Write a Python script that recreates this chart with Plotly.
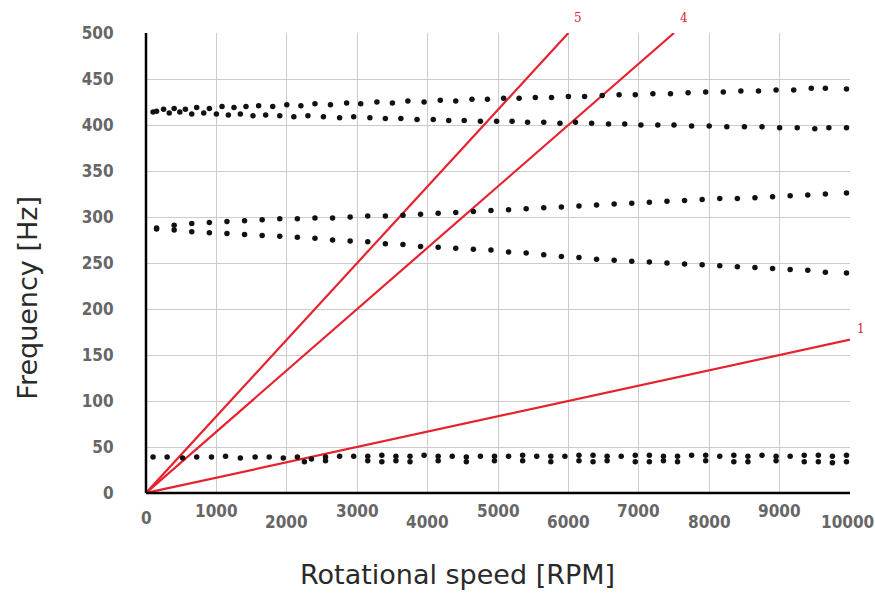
import plotly.graph_objects as go

# ---------------- data ----------------
rpm_a = [100, 250, 400, 560, 720, 900, 1080, 1250, 1420, 1600, 1800, 2000, 2200, 2400, 2620, 2850,
         3050, 3280, 3500, 3720, 3950, 4180, 4400, 4630, 4850, 5080, 5300, 5530, 5760, 6000, 6230,
         6480, 6720, 6950, 7200, 7450, 7700, 7950, 8200, 8450, 8700, 8950, 9200, 9450, 9650, 9950]
freq_a = [414, 417, 418, 417, 419, 418, 420, 419, 420, 421, 420, 422, 421, 423, 422, 424,
          423, 425, 424, 426, 425, 427, 426, 428, 428, 429, 429, 430, 430, 431, 431,
          432, 433, 433, 434, 434, 435, 436, 436, 437, 437, 438, 438, 440, 440, 439]

rpm_b = [150, 330, 480, 650, 820, 1000, 1170, 1340, 1520, 1700, 1900, 2100, 2300, 2520, 2750, 2950,
         3180, 3400, 3620, 3850, 4080, 4300, 4520, 4750, 4980, 5200, 5420, 5650, 5880, 6100, 6330,
         6570, 6800, 7030, 7270, 7500, 7750, 8000, 8250, 8500, 8750, 9000, 9250, 9500, 9700, 9950]
freq_b = [415, 413, 414, 412, 413, 412, 411, 412, 410, 411, 410, 409, 410, 409, 408, 409,
          408, 407, 407, 406, 406, 405, 405, 404, 404, 404, 403, 403, 402, 403, 402,
          401, 401, 400, 400, 400, 399, 399, 398, 398, 398, 397, 397, 396, 397, 397]

rpm_cd = [150, 400, 650, 900, 1150, 1400, 1650, 1900, 2150, 2400, 2650, 2900, 3150, 3400, 3650,
          3900, 4150, 4400, 4650, 4900, 5150, 5400, 5650, 5900, 6150, 6400, 6650, 6900, 7150,
          7400, 7650, 7900, 8150, 8400, 8650, 8900, 9150, 9400, 9650, 9950]
freq_c = [288, 291, 293, 294, 295, 296, 297, 298, 298, 299, 299, 300, 301, 301, 302,
          303, 304, 305, 306, 307, 308, 309, 310, 311, 312, 313, 314, 315, 316,
          317, 318, 319, 320, 320, 321, 322, 323, 324, 325, 326]
freq_d = [287, 286, 284, 283, 282, 281, 280, 279, 278, 277, 275, 274, 273, 271, 270,
          268, 267, 266, 265, 264, 262, 261, 259, 257, 256, 254, 253, 252, 251,
          250, 249, 248, 247, 246, 245, 244, 243, 242, 240, 239]

rpm_e1 = [100, 300, 520, 720, 930, 1130, 1340, 1550, 1750, 1950, 2150, 2350, 2550, 2750, 2950,
          3150, 3350, 3550, 3750, 3950, 4150, 4350, 4550, 4750, 4950, 5150, 5350, 5550, 5750,
          5950, 6150, 6350, 6550, 6750, 6950, 7150, 7350, 7550, 7750, 7950, 8150, 8350, 8550,
          8750, 8950, 9150, 9350, 9550, 9750, 9950]
freq_e1 = [39, 39, 38, 39, 39, 40, 38, 39, 39, 38, 39, 37, 39, 40, 40,
           40, 41, 40, 40, 41, 40, 40, 39, 40, 40, 40, 41, 40, 40,
           40, 41, 41, 40, 40, 41, 41, 40, 40, 41, 41, 40, 41, 40,
           41, 40, 40, 41, 41, 40, 41]
rpm_e2 = [2250, 2550, 3150, 3350, 3550, 3750, 4150, 4550, 4950, 5350, 5750, 6150, 6350, 6550,
          6950, 7150, 7350, 7550, 7950, 8350, 8550, 8950, 9350, 9550, 9750, 9950]
freq_e2 = [34, 35, 35, 34, 35, 34, 35, 34, 35, 35, 34, 35, 34, 35,
           34, 34, 35, 34, 35, 34, 34, 35, 34, 34, 33, 34]

# order lines (engine orders) end points
order_labels = ["1", "4", "5"]
order_rpm = [[0, 10000], [0, 7500], [0, 6000]]
order_freq = [[0, 166.7], [0, 500], [0, 500]]

x_ticks = [0, 1000, 2000, 3000, 4000, 5000, 6000, 7000, 8000, 9000, 10000]
x_tick_text = ["0", "1000", "2000", "3000", "4000", "5000", "6000", "7000", "8000", "9000", "10000"]
y_ticks = [0, 50, 100, 150, 200, 250, 300, 350, 400, 450, 500]

# ---------------- figure ----------------
fig = go.Figure()
RED = "#e5232f"
for lab, xs, ys in zip(order_labels, order_rpm, order_freq):
    fig.add_trace(go.Scatter(x=xs, y=ys, mode="lines", line=dict(color=RED, width=2.2),
                             showlegend=False, hoverinfo="skip", cliponaxis=False))

for xs, ys in [(rpm_a, freq_a), (rpm_b, freq_b), (rpm_cd, freq_c), (rpm_cd, freq_d),
               (rpm_e1, freq_e1), (rpm_e2, freq_e2)]:
    fig.add_trace(go.Scatter(x=xs, y=ys, mode="markers",
                             marker=dict(color="#111111", size=5.5),
                             showlegend=False))

annotations = []
# order labels just beyond the end of each line
lab_font = dict(family="DejaVu Serif, serif", size=12, color=RED)
annotations.append(dict(x=1.0, y=order_freq[0][1], xref="paper", yref="y", text=order_labels[0],
                        showarrow=False, xanchor="left", yanchor="bottom", xshift=5, yshift=2,
                        font=lab_font))
for k in (1, 2):
    annotations.append(dict(x=order_rpm[k][1], y=1.0, xref="x", yref="paper", text=order_labels[k],
                            showarrow=False, xanchor="left", yanchor="bottom", xshift=4, yshift=6,
                            font=lab_font))

tick_font = dict(family="DejaVu Sans Condensed, Liberation Sans Narrow, sans-serif",
                 size=17, color="#666666", weight="bold")
for i, (v, t) in enumerate(zip(x_ticks, x_tick_text)):
    if i == 0:
        shift = -25
    elif i % 2 == 1:
        shift = -18
    else:
        shift = -29
    xs_ = -3 if i == len(x_ticks) - 1 else 0
    annotations.append(dict(x=v, y=0, xref="x", yref="paper", text=t, showarrow=False,
                            xanchor="center", yanchor="middle", yshift=shift, xshift=xs_,
                            font=tick_font))

title_font = dict(family="DejaVu Sans, sans-serif", size=27, color="#2a2a2a")
annotations.append(dict(x=0.443, y=-0.178, xref="paper", yref="paper",
                        text="Rotational speed [RPM]", showarrow=False,
                        xanchor="center", yanchor="middle", font=title_font))
annotations.append(dict(x=-0.168, y=0.424, xref="paper", yref="paper",
                        text="Frequency [Hz]", showarrow=False, textangle=-90,
                        xanchor="center", yanchor="middle", font=title_font))

fig.update_layout(
    width=875, height=593,
    margin=dict(l=146, r=25, t=33, b=100),
    paper_bgcolor="white", plot_bgcolor="white",
    annotations=annotations,
    showlegend=False,
)
fig.update_xaxes(range=[0, 10000], tickvals=x_ticks, showticklabels=False,
                 showgrid=True, gridcolor="#cccccc", gridwidth=1,
                 showline=False, zeroline=False, mirror=False)
fig.update_yaxes(range=[0, 500], tickvals=y_ticks, tickfont=tick_font,
                 ticks="outside", ticklen=0, ticklabelstandoff=28,
                 showgrid=True, gridcolor="#cccccc", gridwidth=1,
                 showline=False, zeroline=False)

fig.add_shape(type="line", xref="paper", yref="paper", x0=0, x1=0, y0=0, y1=1,
              line=dict(color="black", width=2.5))
fig.add_shape(type="line", xref="paper", yref="paper", x0=0, x1=1, y0=0, y1=0,
              line=dict(color="black", width=2.5))

# remove the browser's default 8px body margin so the figure fills the window
fig.write_html("out.html", config={"displayModeBar": False},
               post_script="document.body.style.margin='0';document.body.style.overflow='hidden';")
